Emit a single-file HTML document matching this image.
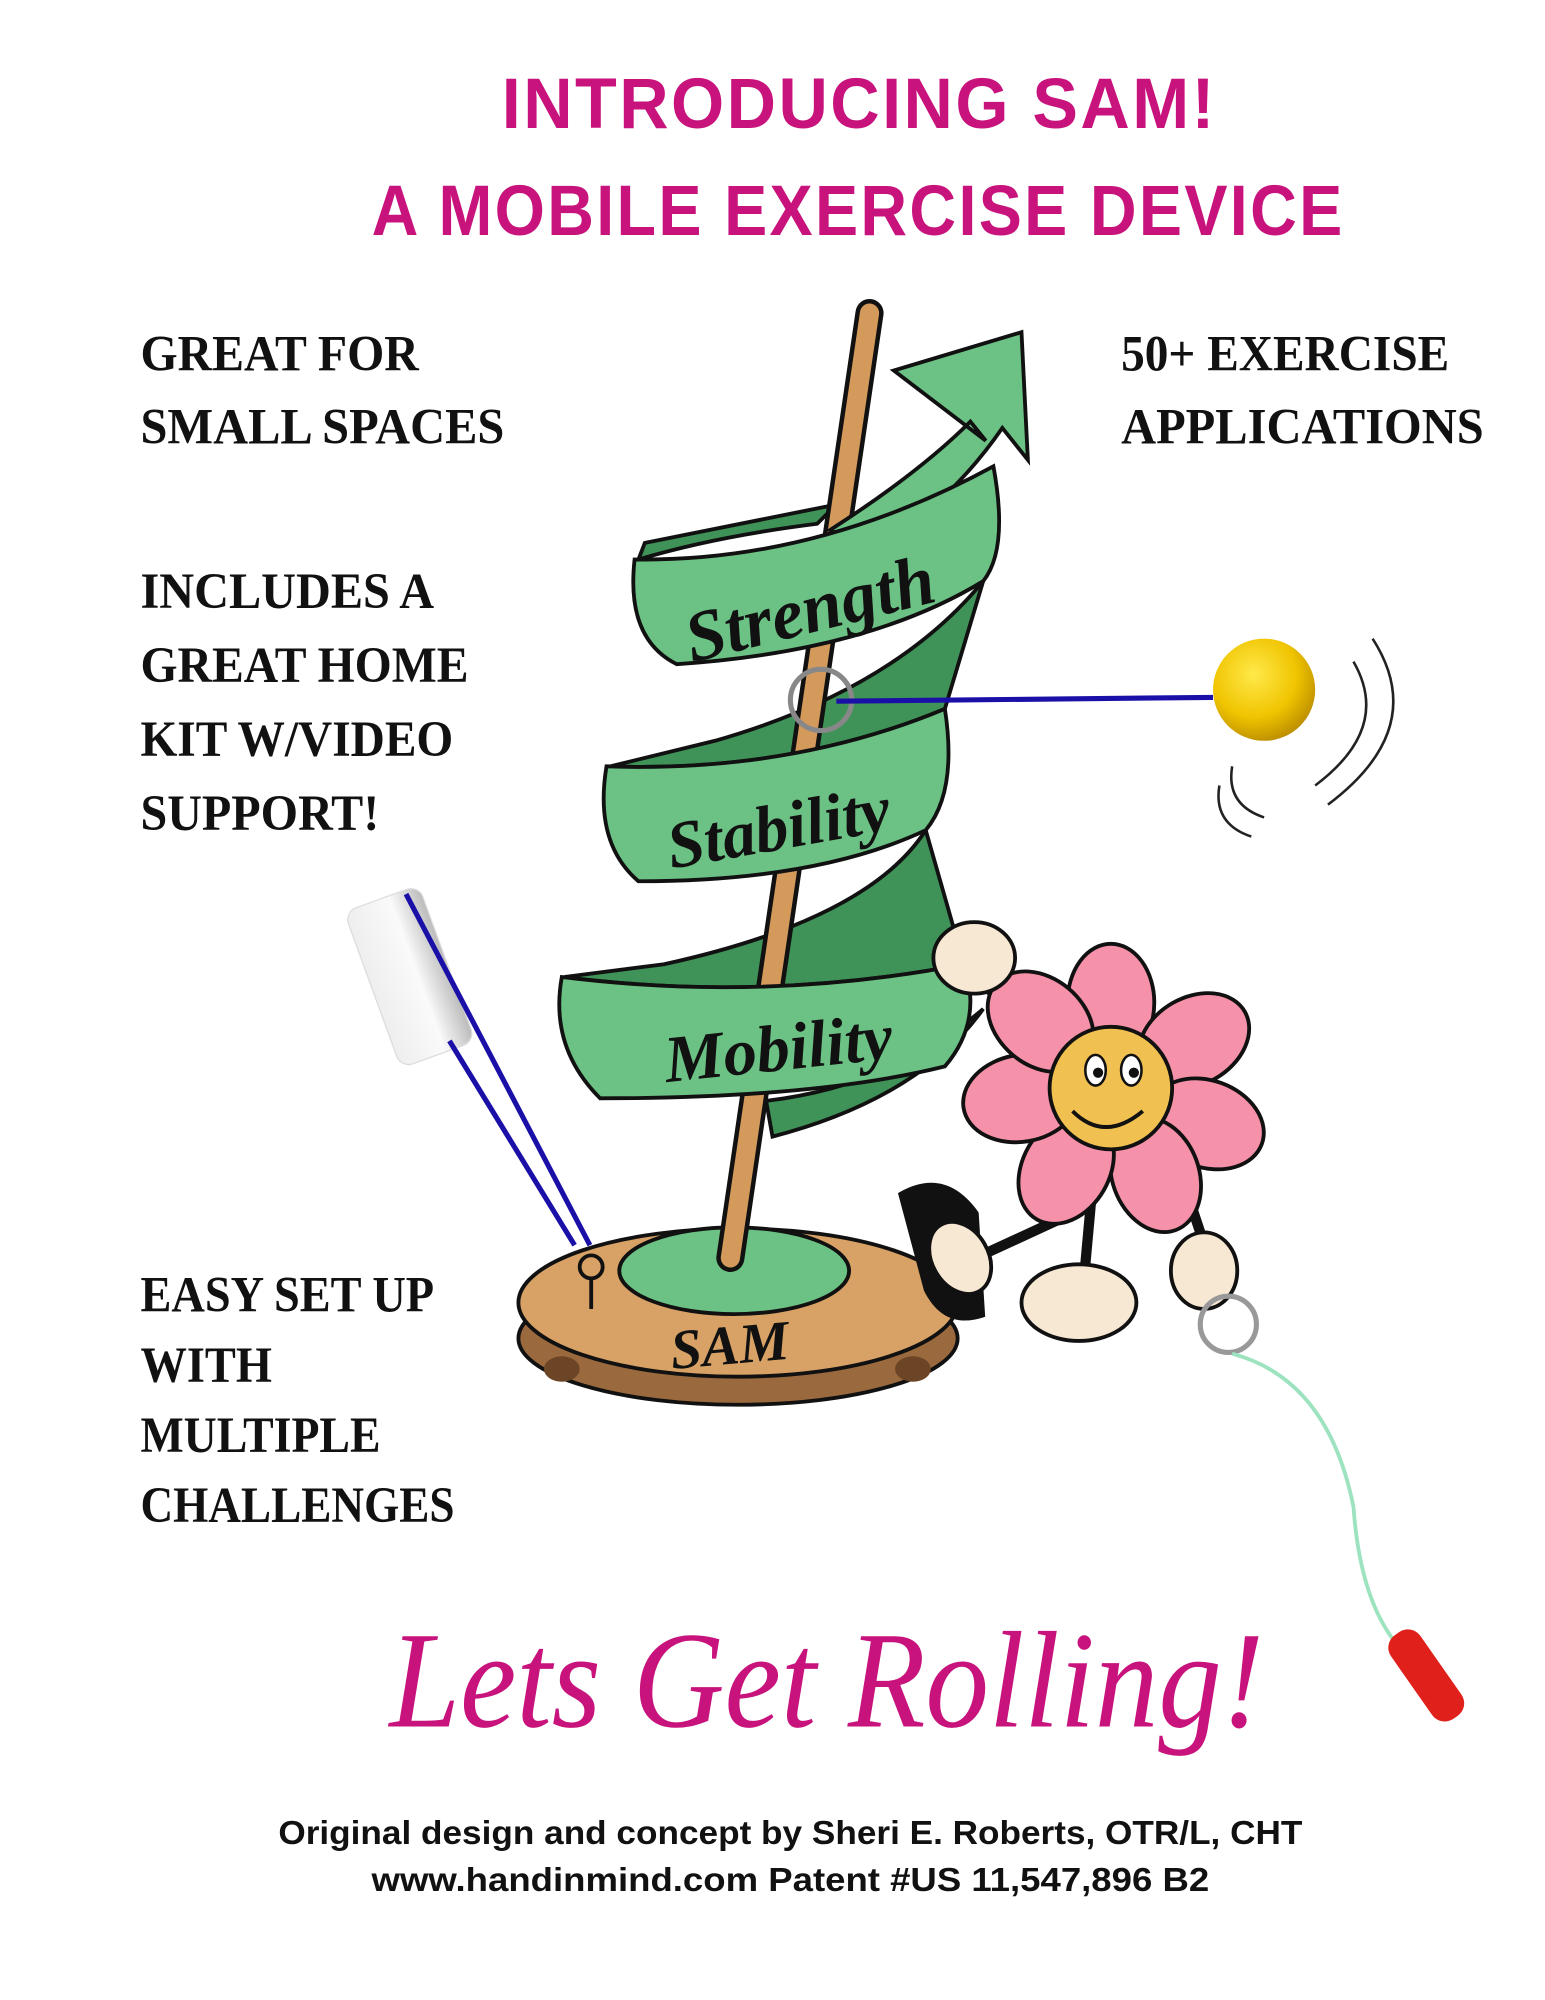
<!DOCTYPE html>
<html><head><meta charset="utf-8"><style>
html,body{margin:0;padding:0;background:#fff}
svg{display:block}
.t{font-family:"Liberation Serif",serif;font-weight:bold;font-size:40px;fill:#111}
.h{font-family:"Liberation Sans",sans-serif;font-weight:bold;font-size:56px;fill:#c8137d;letter-spacing:2px}
.f{font-family:"Liberation Sans",sans-serif;font-weight:bold;font-size:26px;fill:#111}
.sc{font-family:"Liberation Serif",serif;font-style:italic;font-weight:bold;fill:#111}
</style></head><body>
<svg width="1545" height="2000" viewBox="0 0 1210 1566" xmlns="http://www.w3.org/2000/svg">
<defs><radialGradient id="yb" cx="0.4" cy="0.35" r="0.7"><stop offset="0" stop-color="#ffe94a"/><stop offset="0.6" stop-color="#f0c400"/><stop offset="1" stop-color="#b88a00"/></radialGradient>
<linearGradient id="cyl" x1="0" x2="1"><stop offset="0" stop-color="#eee"/><stop offset="0.6" stop-color="#fafafa"/><stop offset="1" stop-color="#bbb"/></linearGradient></defs>
<text x="393" y="100" class="h" textLength="560" lengthAdjust="spacingAndGlyphs">INTRODUCING SAM!</text>
<text x="291" y="184" class="h" textLength="762" lengthAdjust="spacingAndGlyphs">A MOBILE EXERCISE DEVICE</text>
<g class="t">
<text x="110" y="290" textLength="218" lengthAdjust="spacingAndGlyphs">GREAT FOR</text><text x="110" y="347" textLength="285" lengthAdjust="spacingAndGlyphs">SMALL SPACES</text>
<text x="878" y="290" textLength="257" lengthAdjust="spacingAndGlyphs">50+ EXERCISE</text><text x="878" y="347" textLength="284" lengthAdjust="spacingAndGlyphs">APPLICATIONS</text>
<text x="110" y="476" textLength="230" lengthAdjust="spacingAndGlyphs">INCLUDES A</text><text x="110" y="534" textLength="257" lengthAdjust="spacingAndGlyphs">GREAT HOME</text><text x="110" y="592" textLength="245" lengthAdjust="spacingAndGlyphs">KIT W/VIDEO</text><text x="110" y="650" textLength="187" lengthAdjust="spacingAndGlyphs">SUPPORT!</text>
<text x="110" y="1027" textLength="230" lengthAdjust="spacingAndGlyphs">EASY SET UP</text><text x="110" y="1082" textLength="103" lengthAdjust="spacingAndGlyphs">WITH</text><text x="110" y="1137" textLength="188" lengthAdjust="spacingAndGlyphs">MULTIPLE</text><text x="110" y="1192" textLength="246" lengthAdjust="spacingAndGlyphs">CHALLENGES</text>
</g>
<g transform="rotate(-20 320 765)"><rect x="290" y="700" width="62" height="130" rx="10" fill="url(#cyl)" stroke="#ddd"/></g>
<line x1="318" y1="700" x2="462" y2="975" stroke="#1a10a8" stroke-width="4"/>
<line x1="352" y1="815" x2="450" y2="975" stroke="#1a10a8" stroke-width="4"/>
<ellipse cx="578" cy="1048" rx="172" ry="52" fill="#9a6a3e" stroke="#111" stroke-width="3"/>
<ellipse cx="440" cy="1072" rx="14" ry="10" fill="#6b4526"/><ellipse cx="715" cy="1072" rx="14" ry="10" fill="#6b4526"/>
<ellipse cx="578" cy="1020" rx="172" ry="58" fill="#d8a266" stroke="#111" stroke-width="3"/>
<ellipse cx="575" cy="995" rx="90" ry="34" fill="#6cc285" stroke="#111" stroke-width="3"/>
<text x="572" y="1068" text-anchor="middle" class="sc" font-size="44" transform="rotate(-5 572 1060)">SAM</text>
<circle cx="463" cy="992" r="9" fill="none" stroke="#111" stroke-width="3"/><line x1="463" y1="1001" x2="463" y2="1025" stroke="#111" stroke-width="3"/>
<path d="M770,455 Q700,540 560,580 L478,600 Q620,605 740,555 Z" fill="#3f9258" stroke="#111" stroke-width="3"/>
<path d="M725,650 Q680,720 520,755 L442,765 Q600,785 755,755 Z" fill="#3f9258" stroke="#111" stroke-width="3"/>
<path d="M600,862 Q700,850 770,790 Q720,860 605,890 Z" fill="#3f9258" stroke="#111" stroke-width="3"/>
<path d="M500,438 Q560,420 640,410 L655,395 Q580,410 505,425 Z" fill="#3f9258" stroke="#111" stroke-width="3"/>
<line x1="681" y1="245" x2="572" y2="985" stroke="#111" stroke-width="22" stroke-linecap="round"/>
<line x1="681" y1="245" x2="572" y2="985" stroke="#d39a5c" stroke-width="15" stroke-linecap="round"/>
<path d="M650,415 Q720,370 760,330 L772,345 L700,290 L800,260 L805,360 L785,335 Q740,400 680,430 Z" fill="#6cc285" stroke="#111" stroke-width="3"/>
<path d="M497,438 Q640,440 778,365 Q790,430 770,455 Q680,510 530,520 Q490,500 497,438 Z" fill="#6cc285" stroke="#111" stroke-width="3"/>
<text x="635" y="495" text-anchor="middle" class="sc" font-size="56" transform="rotate(-14 635 480)">Strength</text>
<path d="M475,600 Q620,605 740,555 Q750,620 725,650 Q640,690 500,690 Q465,660 475,600 Z" fill="#6cc285" stroke="#111" stroke-width="3"/>
<text x="610" y="665" text-anchor="middle" class="sc" font-size="52" transform="rotate(-10 610 650)">Stability</text>
<path d="M440,765 Q600,785 755,755 Q770,800 740,835 Q640,860 470,860 Q430,820 440,765 Z" fill="#6cc285" stroke="#111" stroke-width="3"/>
<text x="610" y="838" text-anchor="middle" class="sc" font-size="52" transform="rotate(-6 610 825)">Mobility</text>
<circle cx="643" cy="548" r="24" fill="none" stroke="#888" stroke-width="4"/>
<line x1="655" y1="549" x2="950" y2="546" stroke="#1a10a8" stroke-width="4"/>
<circle cx="990" cy="540" r="40" fill="url(#yb)"/>
<path d="M1075,500 Q1120,570 1040,630 M1060,518 Q1090,570 1030,615 M990,640 Q960,630 965,600 M980,655 Q950,645 955,615" stroke="#222" stroke-width="2" fill="none"/>
<g stroke="#111" stroke-width="3">
<line x1="770" y1="770" x2="830" y2="830" stroke-width="8"/>
<line x1="775" y1="980" x2="840" y2="950" stroke-width="8"/>
<line x1="850" y1="990" x2="855" y2="935" stroke-width="8"/>
<line x1="940" y1="965" x2="920" y2="905" stroke-width="8"/>
<g fill="#f591a8">
<ellipse cx="870" cy="785" rx="34" ry="46"/><ellipse cx="935" cy="815" rx="34" ry="46" transform="rotate(60 935 815)"/>
<ellipse cx="945" cy="880" rx="34" ry="46" transform="rotate(110 945 880)"/><ellipse cx="905" cy="920" rx="34" ry="46" transform="rotate(160 905 920)"/>
<ellipse cx="835" cy="915" rx="34" ry="46" transform="rotate(210 835 915)"/><ellipse cx="800" cy="860" rx="34" ry="46" transform="rotate(260 800 860)"/>
<ellipse cx="815" cy="800" rx="34" ry="46" transform="rotate(310 815 800)"/>
</g>
<circle cx="870" cy="852" r="48" fill="#f0c050"/>
<path d="M705,935 Q740,915 765,950 L770,1030 Q740,1040 725,1010 Z" fill="#111"/>
<ellipse cx="752" cy="985" rx="30" ry="22" fill="#f7e8d4" transform="rotate(60 752 985)"/>
<ellipse cx="845" cy="1020" rx="45" ry="30" fill="#f7e8d4"/>
<ellipse cx="763" cy="750" rx="32" ry="28" fill="#f7e8d4"/>
<ellipse cx="943" cy="995" rx="26" ry="30" fill="#f7e8d4"/>
</g>
<path d="M840,870 Q865,895 895,870" stroke="#111" stroke-width="3" fill="none"/>
<ellipse cx="858" cy="838" rx="8" ry="12" fill="#fff" stroke="#111" stroke-width="2"/><ellipse cx="886" cy="838" rx="8" ry="12" fill="#fff" stroke="#111" stroke-width="2"/>
<circle cx="860" cy="840" r="4" fill="#111"/><circle cx="888" cy="840" r="4" fill="#111"/>
<circle cx="962" cy="1037" r="22" fill="none" stroke="#999" stroke-width="4"/>
<path d="M965,1060 Q1040,1080 1060,1180 Q1065,1250 1092,1285" stroke="#9de3c0" stroke-width="3" fill="none"/>
<g transform="rotate(-35 1117 1312)"><rect x="1103" y="1272" width="28" height="80" rx="12" fill="#e0201a"/></g>
<text x="305" y="1352" font-family="Liberation Serif,serif" font-style="italic" font-size="108" fill="#c8137d" textLength="685" lengthAdjust="spacingAndGlyphs">Lets Get Rolling!</text>
<text x="218" y="1444" class="f" textLength="802" lengthAdjust="spacingAndGlyphs">Original design and concept by Sheri E. Roberts, OTR/L, CHT</text>
<text x="291" y="1481" class="f" textLength="656" lengthAdjust="spacingAndGlyphs">www.handinmind.com   Patent #US 11,547,896 B2</text>
</svg>
</body></html>
